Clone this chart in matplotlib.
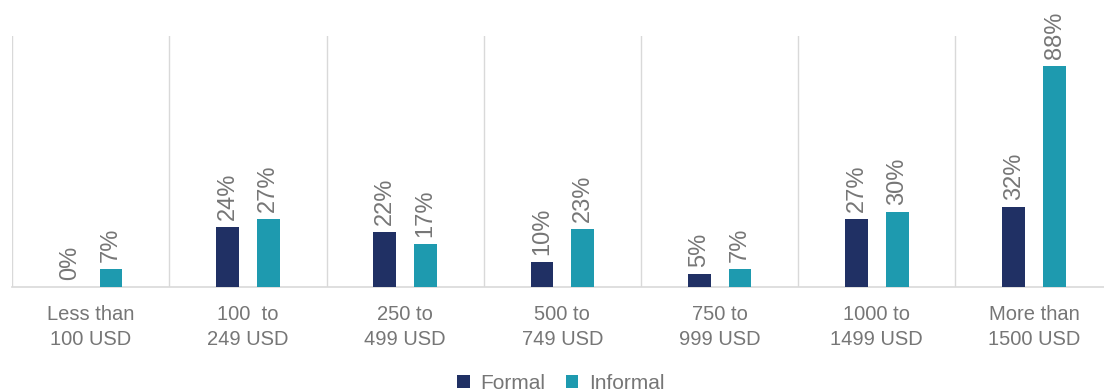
import matplotlib.pyplot as plt
import numpy as np

plt.rcParams['font.family'] = ['Liberation Sans', 'DejaVu Sans']

categories = ["Less than\n100 USD", "100  to\n249 USD", "250 to\n499 USD", "500 to\n749 USD",
              "750 to\n999 USD", "1000 to\n1499 USD", "More than\n1500 USD"]
formal = [0, 24, 22, 10, 5, 27, 32]
informal = [7, 27, 17, 23, 7, 30, 88]

navy = '#203064'
teal = '#1E9AAF'
grey_txt = '#767676'
grid_col = '#D9D9D9'

fig = plt.figure(figsize=(11.04, 3.92), dpi=100)
ax = fig.add_axes([0.0109, 0.268, 0.997, 0.64])

x = np.arange(len(categories))
w = 0.145
off = 0.13
b1 = ax.bar(x - off, formal, w, color=navy, label='Formal', zorder=3)
b2 = ax.bar(x + off, informal, w, color=teal, label='Informal', zorder=3)

for bars, vals in ((b1, formal), (b2, informal)):
    for r, v in zip(bars, vals):
        ax.annotate(f"{v}%", (r.get_x() + r.get_width() / 2, v), xytext=(0, 5),
                    textcoords='offset points', rotation=90, ha='center', va='bottom',
                    fontsize=17, color=grey_txt)

# separators between income groups
for b in np.arange(-0.5, len(categories), 1.0):
    ax.axvline(b, color=grid_col, lw=1, zorder=1)

ax.set_xlim(-0.5, len(categories) - 0.5)
ax.set_ylim(0, 100)
ax.set_xticks(x)
ax.set_xticklabels(categories, fontsize=14.5, color=grey_txt, linespacing=1.4)
ax.tick_params(axis='x', length=0, pad=13)
ax.set_yticks([])
for s in ('top', 'left', 'right'):
    ax.spines[s].set_visible(False)
ax.spines['bottom'].set_color(grid_col)
ax.spines['bottom'].set_linewidth(1.2)

fig.legend(handles=[b1, b2], loc='lower center', bbox_to_anchor=(0.508, -0.05), ncol=2,
           frameon=False, fontsize=15, labelcolor=grey_txt, handlelength=0.6,
           handleheight=0.6, handletextpad=0.5, columnspacing=1.0)

fig.savefig('out.png', dpi=100)
